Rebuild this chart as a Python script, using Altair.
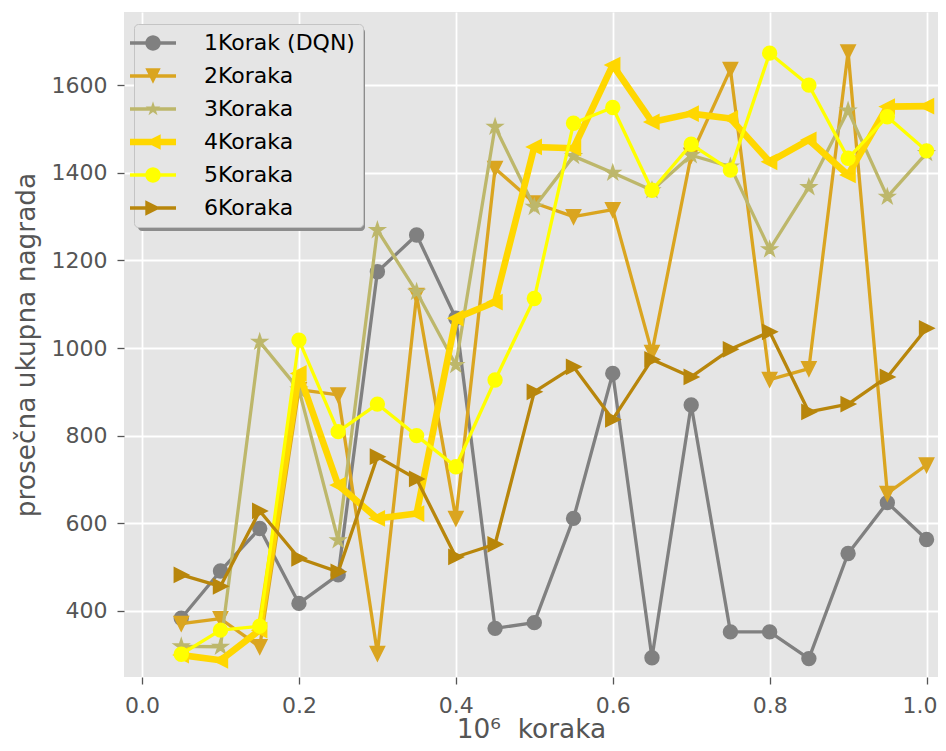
import math
import altair as alt
import pandas as pd

# ---------------- data ----------------
steps = [0.05, 0.10, 0.15, 0.20, 0.25, 0.30, 0.35, 0.40, 0.45, 0.50,
         0.55, 0.60, 0.65, 0.70, 0.75, 0.80, 0.85, 0.90, 0.95, 1.00]
names = ["1Korak (DQN)", "2Koraka", "3Koraka", "4Koraka", "5Koraka", "6Koraka"]
k1 = [383, 491, 588, 417, 482, 1174, 1258, 1068, 360, 373,
      611, 942, 293, 870, 352, 352, 291, 531, 647, 563]
k2 = [371, 382, 318, 905, 893, 303, 1120, 611, 1410, 1331,
      1300, 1316, 990, 1440, 1636, 928, 953, 1676, 668, 733]
k3 = [319, 318, 1014, 905, 561, 1269, 1128, 961, 1505, 1322,
      1438, 1400, 1360, 1440, 1414, 1225, 1367, 1542, 1345, 1445]
k4 = [299, 287, 356, 942, 687, 611, 622, 1068, 1105, 1459,
      1456, 1646, 1516, 1535, 1524, 1425, 1475, 1395, 1551, 1552]
k5 = [301, 356, 365, 1018, 809, 872, 800, 729, 927, 1113,
      1513, 1549, 1360, 1465, 1406, 1673, 1600, 1433, 1528, 1450]
k6 = [482, 456, 628, 520, 489, 752, 701, 523, 552, 900,
      957, 837, 974, 934, 997, 1037, 854, 872, 934, 1045]
series_values = [k1, k2, k3, k4, k5, k6]
x_ticks = [0.0, 0.2, 0.4, 0.6, 0.8, 1.0]
y_ticks = [400, 600, 800, 1000, 1200, 1400, 1600]

# ---------------- styles ----------------
colors = ["#808080", "#DAA520", "#BDB76B", "#FFD700", "#FFFF00", "#B8860B"]
line_widths = [3.3, 3.3, 3.3, 6.6, 3.3, 3.3]
FONT = "DejaVu Sans"


def poly(pts):
    return "M" + "L".join(f"{x:.3f},{y:.3f}" for x, y in pts) + "Z"


circle_pts = [(math.cos(2 * math.pi * i / 40), math.sin(2 * math.pi * i / 40)) for i in range(40)]
tri_down = [(0, 1), (-1, -1), (1, -1)]
tri_left = [(-1, 0), (1, -1), (1, 1)]
tri_right = [(1, 0), (-1, 1), (-1, -1)]
star_pts = []
for i in range(10):
    a = -math.pi / 2 + i * math.pi / 5
    r = 1.0 if i % 2 == 0 else 0.381966
    star_pts.append((r * math.cos(a), r * math.sin(a)))

marker_pts = [circle_pts, tri_down, star_pts, tri_left, circle_pts, tri_right]
plot_shapes = ["circle", poly(tri_down), poly(star_pts), poly(tri_left), "circle", poly(tri_right)]

# legend handle: line segment + marker in one path (unit = sqrt(size)/2 px)
LEG_SIZE = 237
LABEL_OFFSET = 40
unit = math.sqrt(LEG_SIZE) / 2
half_len = 23 / unit
legend_shapes = []
for pts, lw in zip(marker_pts, line_widths):
    ht = (lw / 2) / unit
    rect = [(-half_len, -ht), (half_len, -ht), (half_len, ht), (-half_len, ht)]
    legend_shapes.append(poly(rect) + poly(pts))
# shadow box: same extent as handle + widest label ("1Korak (DQN)" ~152 px at 22 px)
shadow_right = (math.sqrt(LEG_SIZE) / 2 + LABEL_OFFSET + 152) / unit
shadow_half_h = 11 / unit
shadow_symbol = poly([(-half_len, -shadow_half_h), (shadow_right, -shadow_half_h),
                      (shadow_right, shadow_half_h), (-half_len, shadow_half_h)])
shadow_names = [n + "\u200b" for n in names]

rows = []
for name, vals in zip(names, series_values):
    for s, v in zip(steps, vals):
        rows.append({"step": s, "reward": v, "series": name})
df = pd.DataFrame(rows)

x_scale = alt.Scale(domain=[-0.023, 1.0146], nice=False, zero=False)
y_scale = alt.Scale(domain=[249, 1767], nice=False, zero=False)

x_axis = alt.Axis(values=x_ticks, format=".1f", title="10⁶\u00a0 koraka",
                  labelPadding=11, titleY=60, titleBaseline="alphabetic",
                  labelOffset={"condition": {"test": "datum.value >= 1", "value": -7}, "value": 0})
y_axis = alt.Axis(values=y_ticks, format="d", title="prosečna ukupna nagrada",
                  labelPadding=10, titlePadding=11)

base = alt.Chart(df)
X = alt.X("step:Q", scale=x_scale, axis=x_axis)
Y = alt.Y("reward:Q", scale=y_scale, axis=y_axis)

LEG_COMMON = dict(
    title=None, orient="none",
    labelFont=FONT, labelFontSize=22, labelLimit=400, labelOffset=LABEL_OFFSET,
    symbolSize=LEG_SIZE, symbolStrokeWidth=0,
    rowPadding=11, padding=8, cornerRadius=4,
)

# shadow legend (drawn first, under the real legend); its labels are empty
shadow_leg = alt.Legend(legendX=14, legendY=16, labelExpr="''", symbolOpacity=1,
                        symbolType=shadow_symbol, symbolFillColor="#8C8C8C",
                        fillColor="#8C8C8C", **LEG_COMMON)
shadow_layer = base.transform_filter(alt.datum.reward < 0).mark_point(filled=True).encode(
    x=X, y=Y,
    fill=alt.Fill("series:N", scale=alt.Scale(domain=shadow_names, range=["#8C8C8C"] * 6),
                  legend=shadow_leg),
)

layers = [shadow_layer]
for i, name in enumerate(names):
    sub = base.transform_filter(alt.datum.series == name)
    line = sub.mark_line(strokeWidth=line_widths[i], strokeJoin="round",
                         strokeCap="square", color=colors[i]).encode(x=X, y=Y)
    pts = sub.mark_point(filled=True, shape=plot_shapes[i], size=174, strokeWidth=2.2,
                         fill=colors[i], stroke=colors[i], opacity=1).encode(x=X, y=Y)
    layers += [line, pts]

leg = alt.Legend(legendX=10, legendY=12, labelColor="black", symbolOpacity=1,
                 fillColor="#E5E5E5", strokeColor="#C4C4C4", **LEG_COMMON)
# legend-only layer: explicit domains, no rows drawn
legend_layer = base.transform_filter(alt.datum.reward < 0).mark_point(filled=True).encode(
    x=X, y=Y,
    color=alt.Color("series:N", scale=alt.Scale(domain=names, range=colors), legend=leg),
    shape=alt.Shape("series:N", scale=alt.Scale(domain=names, range=legend_shapes), legend=leg),
)
layers.append(legend_layer)

chart = alt.layer(*layers).properties(
    width=814, height=665,
    padding={"left": 116, "top": 4, "right": 0, "bottom": 66},
    autosize=alt.AutoSizeParams(type="none"),
).configure_view(
    fill="#E5E5E5", stroke=None
).configure_axis(
    domain=False, grid=True, gridColor="white", gridWidth=1.8,
    tickColor="#555555", tickSize=7, tickWidth=1.3,
    labelFont=FONT, labelFontSize=22, labelColor="#555555",
    titleFont=FONT, titleFontSize=26.4, titleColor="#555555", titleFontWeight="normal",
)

chart.save("out.html", embed_options={"renderer": "svg", "actions": False})
